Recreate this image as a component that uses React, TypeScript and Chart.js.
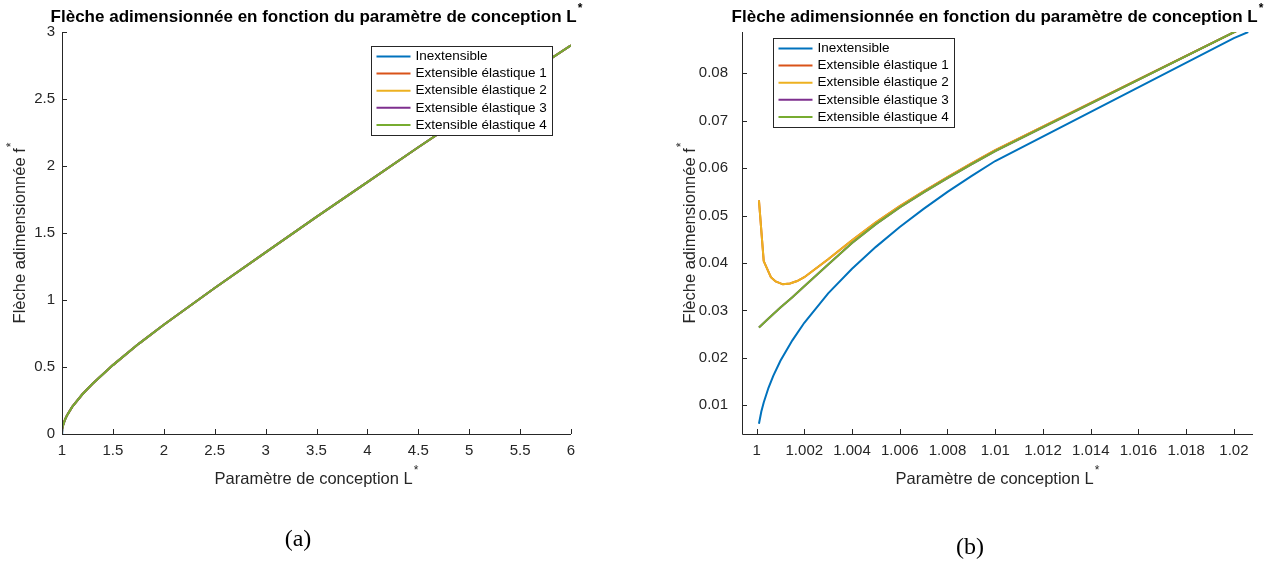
import React, { useEffect, useRef } from "react";
import { Chart, registerables } from "chart.js";

Chart.register(...registerables);

// ---------- data ----------
const seriesNames = [
  "Inextensible",
  "Extensible élastique 1",
  "Extensible élastique 2",
  "Extensible élastique 3",
  "Extensible élastique 4",
];
const seriesColors = ["#0072BD", "#D95319", "#EDB120", "#7E2F8E", "#77AC30"];

// (a) full range
const leftX = [1.0001, 1.001, 1.003, 1.01, 1.03, 1.05, 1.1, 1.2, 1.3, 1.5, 1.75, 2, 2.5, 3, 3.5, 4, 4.5, 5, 5.5, 6];
const leftInext = [0.0061, 0.0194, 0.0336, 0.0615, 0.1075, 0.1398, 0.202, 0.2964, 0.375, 0.514, 0.671, 0.815, 1.09, 1.355, 1.62, 1.88, 2.14, 2.395, 2.65, 2.9];
const leftExt12 = [0.0532, 0.0355, 0.041, 0.0638, 0.1086, 0.1405, 0.2024, 0.2966, 0.3751, 0.514, 0.671, 0.815, 1.09, 1.355, 1.62, 1.88, 2.14, 2.395, 2.65, 2.9];
const leftExt34 = [0.0264, 0.0306, 0.0397, 0.0636, 0.1085, 0.1405, 0.2024, 0.2966, 0.3751, 0.514, 0.671, 0.815, 1.09, 1.355, 1.62, 1.88, 2.14, 2.395, 2.65, 2.9];
const leftXTicks = [1, 1.5, 2, 2.5, 3, 3.5, 4, 4.5, 5, 5.5, 6];
const leftYTicks = [0, 0.5, 1, 1.5, 2, 2.5, 3];

// (b) zoom near L* = 1
const rightInextX = [1.0001, 1.0002, 1.0003, 1.0005, 1.0007, 1.001, 1.0015, 1.002, 1.003, 1.004, 1.005, 1.006, 1.007, 1.008, 1.009, 1.01, 1.02, 1.0206];
const rightInextY = [0.0061, 0.0087, 0.0106, 0.0137, 0.0162, 0.0194, 0.0237, 0.0274, 0.0336, 0.0388, 0.0434, 0.0476, 0.0514, 0.055, 0.0583, 0.0615, 0.0874, 0.0887];
const rightExt12X = [1.0001, 1.0003, 1.0006, 1.0008, 1.0011, 1.0014, 1.0017, 1.002, 1.0025, 1.003, 1.004, 1.005, 1.006, 1.007, 1.008, 1.009, 1.01, 1.0201];
const rightExt12Y = [0.0532, 0.0404, 0.037, 0.0361, 0.0355, 0.0357, 0.0362, 0.037, 0.0389, 0.0408, 0.0448, 0.0486, 0.052, 0.0551, 0.0581, 0.061, 0.0638, 0.0889];
const rightExt34X = [1.0001, 1.0005, 1.001, 1.0015, 1.002, 1.003, 1.004, 1.005, 1.006, 1.007, 1.008, 1.009, 1.01, 1.0201];
const rightExt34Y = [0.0264, 0.0283, 0.0306, 0.0328, 0.0351, 0.0397, 0.0442, 0.0482, 0.0517, 0.0549, 0.0579, 0.0608, 0.0636, 0.0889];
const rightXTicks = [1, 1.002, 1.004, 1.006, 1.008, 1.01, 1.012, 1.014, 1.016, 1.018, 1.02];
const rightYTicks = [0.01, 0.02, 0.03, 0.04, 0.05, 0.06, 0.07, 0.08];

const titleText = "Flèche adimensionnée en fonction du paramètre de conception L";
const xLabelText = "Paramètre de conception L";
const yLabelText = "Flèche adimensionnée f";

// ---------- styling ----------
const AXIS = "#262626";
const SANS = "'Liberation Sans', Arial, Helvetica, sans-serif";
const W = 632;
const H = 562;

const zip = (xs: number[], ys: number[]) => xs.map((x, i) => ({ x, y: ys[i] }));

type PanelCfg = {
  offsetX: number;
  area: { left: number; right: number; top: number; bottom: number };
  xMin: number; xMax: number; yMin: number; yMax: number;
  xTicks: number[]; yTicks: number[];
  xDec: number; yDec: number;
  yPad: number; xPad: number;
  series: { x: number; y: number }[][];
  legend: { left: number; top: number };
  caption: string; captionX: number; captionY: number;
  yLabelX: number; xLabelY: number;
};

function drawSup(ctx: CanvasRenderingContext2D, text: string, x: number, y: number, size: number, bold: boolean) {
  const f = `${bold ? "bold " : ""}${size}px ${SANS}`;
  const fs = `${bold ? "bold " : ""}${Math.round(size * 0.7)}px ${SANS}`;
  ctx.font = f;
  const w = ctx.measureText(text).width;
  ctx.font = fs;
  const sw = ctx.measureText("*").width;
  const x0 = x - (w + sw + 1) / 2;
  ctx.textAlign = "left";
  ctx.textBaseline = "middle";
  ctx.font = f;
  ctx.fillText(text, x0, y);
  ctx.font = fs;
  ctx.fillText("*", x0 + w + 1, y - size * 0.5);
}

function Panel({ cfg }: { cfg: PanelCfg }) {
  const ref = useRef<HTMLCanvasElement | null>(null);
  useEffect(() => {
    if (!ref.current) return;
    const a = cfg.area;
    const localLeft = a.left - cfg.offsetX;
    const localRight = a.right - cfg.offsetX;
    const XH = 40;
    const overlay = {
      id: "matlabDecor",
      afterDraw(chart: any) {
        const ctx: CanvasRenderingContext2D = chart.ctx;
        const ca = chart.chartArea;
        const xs = chart.scales.x;
        const ys = chart.scales.y;
        ctx.save();
        ctx.strokeStyle = AXIS;
        ctx.lineWidth = 1;
        ctx.beginPath();
        ctx.moveTo(Math.round(ca.left) + 0.5, ca.top);
        ctx.lineTo(Math.round(ca.left) + 0.5, ca.bottom + 0.5);
        ctx.lineTo(ca.right, Math.round(ca.bottom) + 0.5);
        for (const v of cfg.xTicks) {
          const px = Math.round(xs.getPixelForValue(v)) + 0.5;
          ctx.moveTo(px, ca.bottom);
          ctx.lineTo(px, ca.bottom - 5);
        }
        for (const v of cfg.yTicks) {
          const py = Math.round(ys.getPixelForValue(v)) + 0.5;
          ctx.moveTo(ca.left, py);
          ctx.lineTo(ca.left + 5, py);
        }
        ctx.stroke();
        ctx.fillStyle = "#000000";
        drawSup(ctx, titleText, (ca.left + ca.right) / 2, 17, 17, true);
        ctx.fillStyle = AXIS;
        drawSup(ctx, xLabelText, (ca.left + ca.right) / 2, cfg.xLabelY, 16.5, false);
        ctx.save();
        ctx.translate(cfg.yLabelX - cfg.offsetX, (ca.top + ca.bottom) / 2);
        ctx.rotate(-Math.PI / 2);
        drawSup(ctx, yLabelText, 0, 0, 16.5, false);
        ctx.restore();
        const bx = Math.round(cfg.legend.left - cfg.offsetX) + 0.5;
        const by = Math.round(cfg.legend.top) + 0.5;
        const bw = 181;
        const bh = 89;
        ctx.fillStyle = "#ffffff";
        ctx.fillRect(bx, by, bw, bh);
        ctx.strokeStyle = AXIS;
        ctx.lineWidth = 1;
        ctx.strokeRect(bx, by, bw, bh);
        ctx.font = `13.5px ${SANS}`;
        ctx.textAlign = "left";
        ctx.textBaseline = "middle";
        seriesNames.forEach((name, i) => {
          const ry = by + 10 + i * 17.1;
          ctx.strokeStyle = seriesColors[i];
          ctx.lineWidth = 2;
          ctx.beginPath();
          ctx.moveTo(bx + 5, ry);
          ctx.lineTo(bx + 39, ry);
          ctx.stroke();
          ctx.fillStyle = "#000000";
          ctx.fillText(name, bx + 44, ry);
        });
        ctx.fillStyle = "#000000";
        ctx.font = `24px 'Liberation Serif', 'DejaVu Serif', serif`;
        ctx.textAlign = "center";
        ctx.textBaseline = "middle";
        ctx.fillText(cfg.caption, cfg.captionX - cfg.offsetX, cfg.captionY);
        ctx.restore();
      },
    };
    const fmt = (dec: number) => (v: any) => String(Number(Number(v).toFixed(dec)));
    const chart = new Chart(ref.current, {
      type: "line",
      data: {
        datasets: cfg.series.map((pts, i) => ({
          label: seriesNames[i],
          data: pts,
          borderColor: seriesColors[i],
          backgroundColor: seriesColors[i],
          borderWidth: 2,
          pointRadius: 0,
          tension: 0,
          fill: false,
          order: 4 - i,
        })),
      },
      options: {
        animation: false,
        responsive: false,
        maintainAspectRatio: false,
        devicePixelRatio: 1,
        parsing: false,
        layout: {
          padding: { left: 0, right: W - localRight, top: a.top, bottom: H - a.bottom - XH },
        },
        plugins: { legend: { display: false }, title: { display: false }, tooltip: { enabled: false } },
        scales: {
          x: {
            type: "linear",
            min: cfg.xMin,
            max: cfg.xMax,
            grid: { display: false, drawTicks: false },
            border: { display: false },
            afterBuildTicks: (s: any) => { s.ticks = cfg.xTicks.map((v) => ({ value: v })); },
            afterFit: (s: any) => { s.height = XH; },
            ticks: {
              color: AXIS,
              font: { family: SANS, size: 15 },
              padding: cfg.xPad,
              maxRotation: 0,
              autoSkip: false,
              callback: fmt(cfg.xDec),
            },
          },
          y: {
            type: "linear",
            min: cfg.yMin,
            max: cfg.yMax,
            grid: { display: false, drawTicks: false },
            border: { display: false },
            afterBuildTicks: (s: any) => { s.ticks = cfg.yTicks.map((v) => ({ value: v })); },
            afterFit: (s: any) => { s.width = localLeft; },
            ticks: {
              color: AXIS,
              font: { family: SANS, size: 15 },
              padding: cfg.yPad,
              autoSkip: false,
              callback: fmt(cfg.yDec),
            },
          },
        },
      },
      plugins: [overlay],
    } as any);
    return () => chart.destroy();
  }, [cfg]);
  return (
    <canvas
      ref={ref}
      width={W}
      height={H}
      style={{ position: "absolute", left: cfg.offsetX, top: 0, width: W, height: H, display: "block" }}
    />
  );
}

const leftCfg: PanelCfg = {
  offsetX: 0,
  area: { left: 62, right: 571, top: 32, bottom: 434 },
  xMin: 1, xMax: 6, yMin: 0, yMax: 3,
  xTicks: leftXTicks, yTicks: leftYTicks, xDec: 1, yDec: 1,
  yPad: 7, xPad: 8,
  series: [
    zip(leftX, leftInext),
    zip(leftX, leftExt12),
    zip(leftX, leftExt12),
    zip(leftX, leftExt34),
    zip(leftX, leftExt34),
  ],
  legend: { left: 371, top: 46 },
  caption: "(a)", captionX: 298, captionY: 540,
  yLabelX: 20, xLabelY: 479,
};

const rightCfg: PanelCfg = {
  offsetX: 632,
  area: { left: 742, right: 1253, top: 32, bottom: 434 },
  xMin: 0.99939, xMax: 1.0208, yMin: 0.00395, yMax: 0.0887,
  xTicks: rightXTicks, yTicks: rightYTicks, xDec: 3, yDec: 2,
  yPad: 14, xPad: 8,
  series: [
    zip(rightInextX, rightInextY),
    zip(rightExt12X, rightExt12Y),
    zip(rightExt12X, rightExt12Y),
    zip(rightExt34X, rightExt34Y),
    zip(rightExt34X, rightExt34Y),
  ],
  legend: { left: 773, top: 38 },
  caption: "(b)", captionX: 970, captionY: 548,
  yLabelX: 690, xLabelY: 479,
};

export default function App() {
  return (
    <div style={{ position: "absolute", left: 0, top: 0, width: 1264, height: 562, background: "#ffffff", overflow: "hidden" }}>
      <Panel cfg={leftCfg} />
      <Panel cfg={rightCfg} />
    </div>
  );
}
